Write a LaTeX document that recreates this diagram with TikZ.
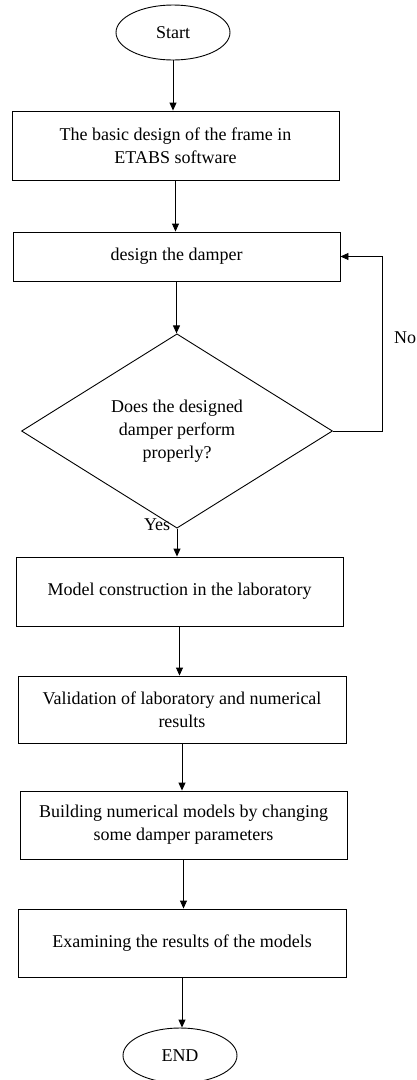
\documentclass[tikz,border=0pt]{standalone}
\usepackage{fontspec}
\setmainfont{Liberation Serif}
\usetikzlibrary{shapes.geometric}
\usetikzlibrary{arrows, arrows.meta}

\begin{document}
\begin{tikzpicture}[x=1pt, y=-1pt,
	font=\fontsize{18}{23}\selectfont,
	every node/.style={line width=0.9pt},
	term/.style={draw, ellipse, minimum width=114pt, minimum height=55pt, inner sep=0pt},
	box/.style={draw, rectangle, minimum width=327pt, align=center, inner sep=0pt},
	flow/.style={-{Triangle[length=8pt,width=7pt]}, line width=0.9pt}]
	\useasboundingbox (0,0) rectangle (417,1080);

	%terminals and boxes
	\node[term] (start) at (173,32.5) {Start};
	\node[box, minimum height=69pt] (frame) at (175.5,145.5) {The basic design of the frame in\\ETABS software};
	\node[box, minimum height=49pt] (damper) at (176.5,256.5) {design the damper};
	\node[draw, diamond, minimum width=311pt, minimum height=154pt, inner sep=0pt, align=center] (check) at (177,431)
		{Does the designed\\damper perform\\properly?};
	\node[box, minimum height=69pt] (lab) at (179.5,591.5) {Model construction in the laboratory};
	\node[box, minimum height=67pt, minimum width=328pt] (valid) at (182,709.5) {Validation of laboratory and numerical\\results};
	\node[box, minimum height=68pt] (numer) at (183.5,825) {Building numerical models by changing\\some damper parameters};
	\node[box, minimum height=68pt, minimum width=328pt] (exam) at (182,943) {Examining the results of the models};
	\node[term] (end) at (180,1055.5) {END};

	%arrows
	\draw[flow] (start.south) -- (start.south |- frame.north);
	\draw[flow] (frame.south) -- (frame.south |- damper.north);
	\draw[flow] (damper.south) -- (damper.south |- check.north);
	\draw[flow] (check.south) -- (check.south |- lab.north);
		\node[anchor=east] (yes) at (174,525) {Yes};
	\draw[flow] (lab.south) -- (lab.south |- valid.north);
	\draw[flow] (valid.south) -- (valid.south |- numer.north);
	\draw[flow] (numer.south) -- (numer.south |- exam.north);
	\draw[flow] (exam.south) -- (exam.south |- end.north);

	%loop back
	\coordinate (turn) at (382,431);
	\draw[flow] (check.east) -- (turn) |- (damper.east);
		\node[anchor=east, inner sep=0pt] (no) at (416.5,338) {No};
\end{tikzpicture}
\end{document}
